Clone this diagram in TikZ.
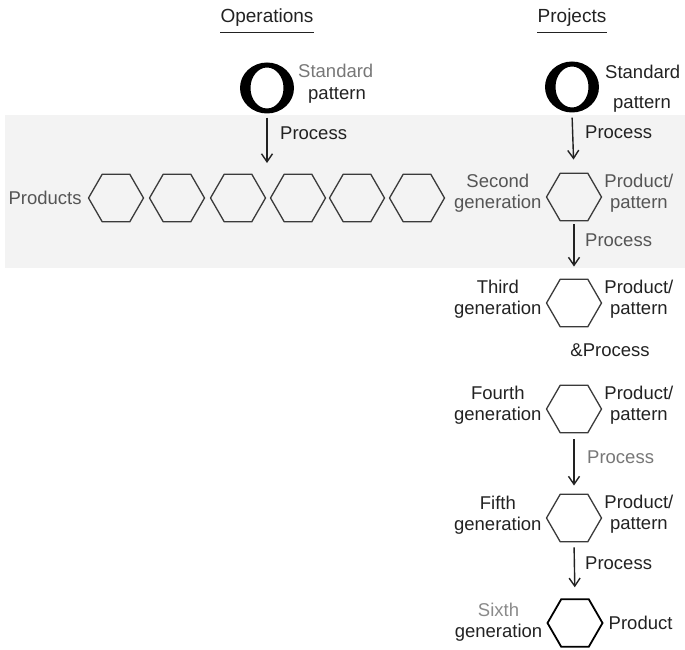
\documentclass[tikz,border=0pt]{standalone}
\usepackage{fontspec}
\setmainfont{Liberation Sans}
\usetikzlibrary{shapes.geometric,arrows.meta}
\definecolor{ink}{HTML}{222222}
\definecolor{soft}{HTML}{555555}
\definecolor{pale}{HTML}{777777}
\definecolor{faint}{HTML}{8A8A8A}
\definecolor{hexline}{HTML}{3A3A3A}
\definecolor{bandfill}{HTML}{F3F3F3}
\begin{document}
\begin{tikzpicture}[x=1pt,y=-1pt,
  lbl/.style={inner sep=0pt, text=ink, font=\fontsize{18.5}{21.5}\selectfont, align=center},
  head/.style={inner sep=0pt, text=ink, font=\fontsize{19}{22}\selectfont},
  hexa/.style={regular polygon, regular polygon sides=6, minimum size=55pt,
               inner sep=0pt, draw=hexline, line width=1.3pt},
  flow/.style={draw=ink, line width=1.4pt, -{Straight Barb[length=8pt,width=11pt]}},
  bigO/.style={minimum width=56pt, minimum height=53pt, inner sep=0pt,
    path picture={\fill[black,even odd rule]
      (path picture bounding box.center) ellipse [x radius=27pt, y radius=25.5pt]
      (path picture bounding box.center) ellipse [x radius=16.5pt, y radius=20.5pt];}}
]
\useasboundingbox (0,0) rectangle (685,650);

% shaded strip behind the row of products
\fill[bandfill] (5,115) rectangle (685,268);

% column headings
\node[head] (ops) at (267,18) {Operations};
\draw[ink, line width=1pt] ([yshift=-5pt]ops.south west) -- ([yshift=-5pt]ops.south east);
\node[head] (prj) at (572,18) {Projects};
\draw[ink, line width=1pt] ([yshift=-5pt]prj.south west) -- ([yshift=-5pt]prj.south east);

% ---------- operations column ----------
\node[bigO] (lo) at (267,88) {};
\node[lbl, anchor=west, text=pale] (lstd) at (298,71) {Standard};
\node[lbl, anchor=west] (lpat) at (308,95) {pattern};
\coordinate (rowtop) at (267,163);
\draw[flow, shorten <=3pt] (lo.south) -- (rowtop);
\node[lbl, anchor=west] (lproc) at (280,133) {Process};

\foreach \i/\x in {1/116,2/177,3/238,4/298,5/357,6/417}
  \node[hexa] (p\i) at (\x,198) {};
\node[lbl, anchor=east, text=soft] (prods) at ([xshift=-6pt]p1.west) {Products};

% ---------- projects column ----------
\node[bigO] (ro) at (572,87) {};
\node[lbl, anchor=west] (rstd) at (605,72) {Standard};
\node[lbl, anchor=west] (rpat) at (613,104) {pattern};

\node[hexa] (g2) at (574,197) {};
\node[hexa] (g3) at (574,303) {};
\node[hexa] (g4) at (574,409) {};
\node[hexa] (g5) at (574,518) {};
\node[hexa, draw=black, line width=1.8pt] (g6) at (575,623) {};

% generation names
\node[lbl, anchor=east, text=soft] (n2) at ([xshift=-4pt,yshift=4pt]g2.west) {Second\\generation};
\node[lbl, anchor=east] (n3) at ([xshift=-4pt,yshift=4pt]g3.west) {Third\\generation};
\node[lbl, anchor=east] (n4) at ([xshift=-4pt,yshift=4pt]g4.west) {Fourth\\generation};
\node[lbl, anchor=east] (n5) at ([xshift=-4pt,yshift=3pt]g5.west) {Fifth\\generation};
\node[lbl, anchor=east] (n6) at ([xshift=-4pt,yshift=1pt]g6.west) {{\color{faint}Sixth}\\generation};

% what each generation yields
\node[lbl, anchor=west, text=soft] (o2) at ([xshift=2pt,yshift=4pt]g2.east) {Product/\\pattern};
\node[lbl, anchor=west] (o3) at ([xshift=2pt,yshift=4pt]g3.east) {Product/\\pattern};
\node[lbl, anchor=west] (o4) at ([xshift=2pt,yshift=4pt]g4.east) {Product/\\pattern};
\node[lbl, anchor=west] (o5) at ([xshift=2pt,yshift=4pt]g5.east) {Product/\\pattern};
\node[lbl, anchor=west] (o6) at ([xshift=5pt]g6.east) {Product};

% process steps
\draw[flow, shorten <=4pt, shorten >=13pt] (ro.south) -- (g2.north);
\node[lbl, anchor=west] (q1) at (585,132) {Process};
\draw[flow, shorten <=3pt, shorten >=12pt] (g2.south) -- (g3.north);
\node[lbl, anchor=west, text=soft] (q2) at (585,240) {Process};
\node[lbl] (q3) at (610,350) {\&Process};
\draw[flow, shorten <=6pt, shorten >=8pt] (g4.south) -- (g5.north);
\node[lbl, anchor=west, text=pale] (q4) at (587,457) {Process};
\draw[flow, shorten <=5pt, shorten >=11pt] (g5.south) -- (g6.north);
\node[lbl, anchor=west] (q5) at (585,563) {Process};
\end{tikzpicture}
\end{document}
